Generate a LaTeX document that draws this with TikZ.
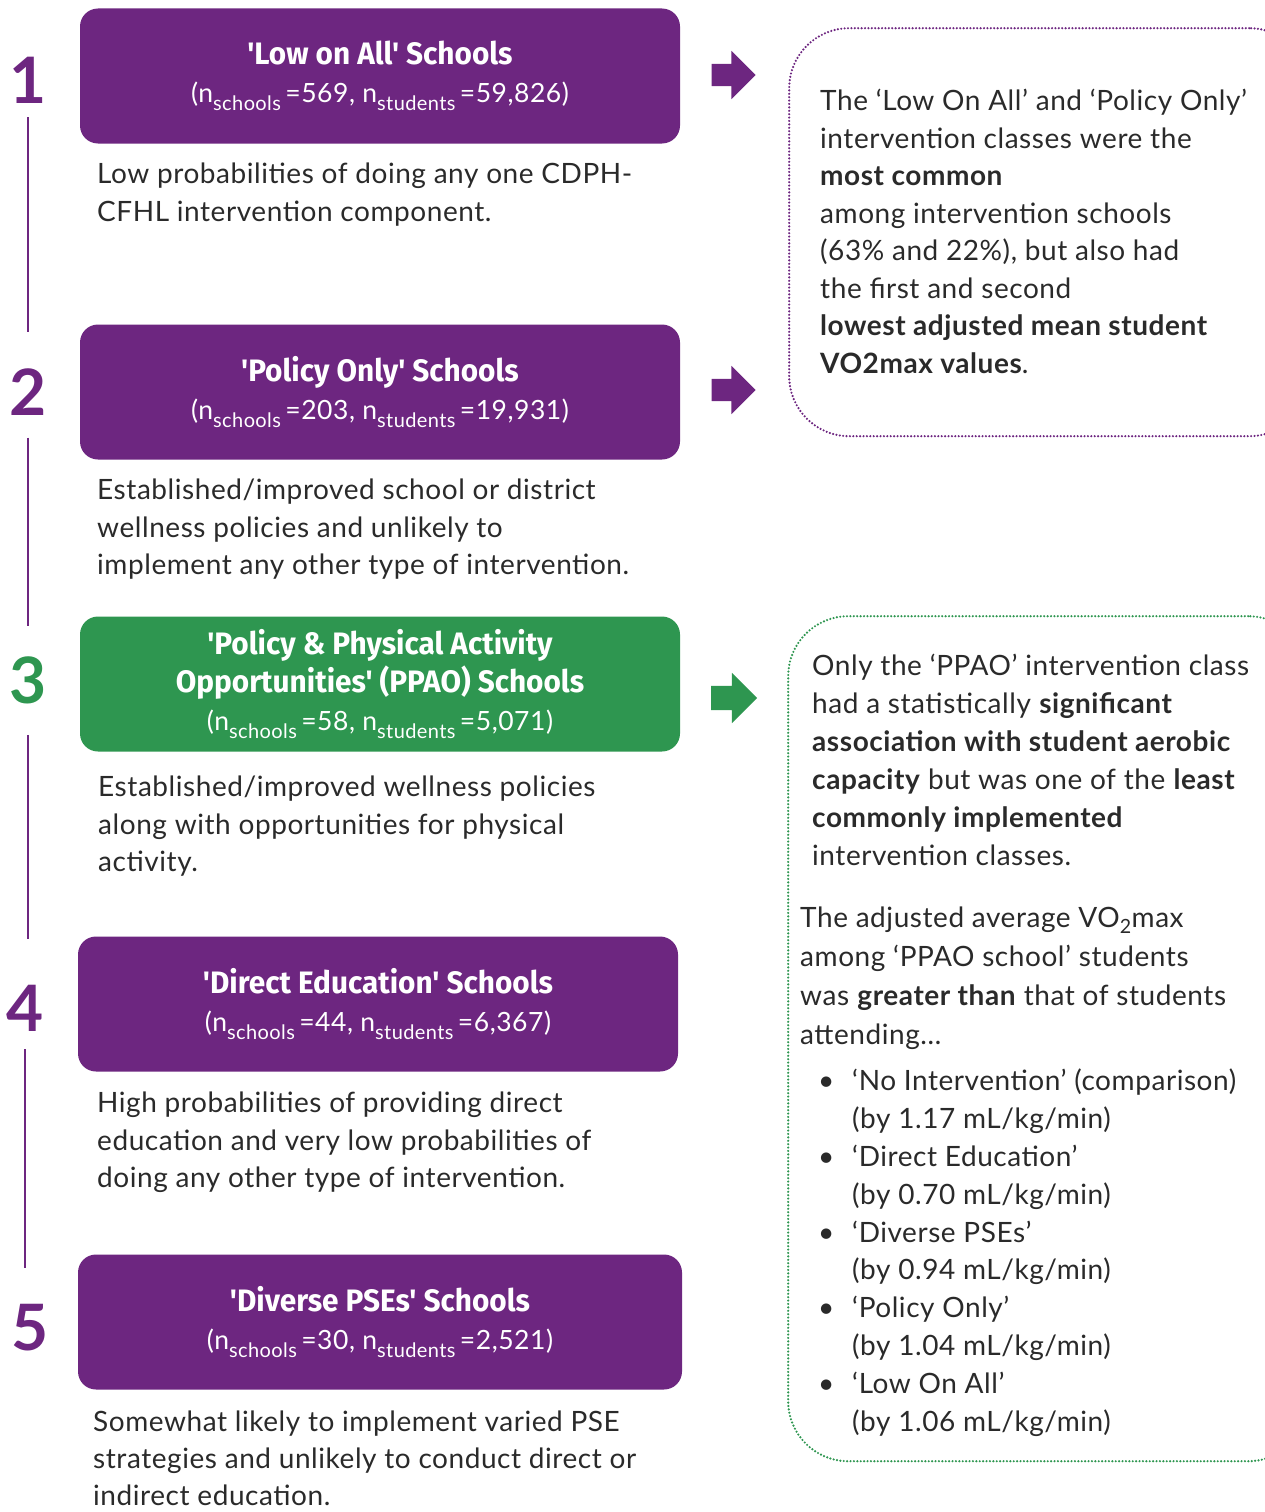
\documentclass[tikz,border=0pt]{standalone}
\usepackage{fontspec}
\setmainfont{Lato}[LetterSpace=2.0]
\newfontfamily\headfont{Fira Sans}[FakeStretch=0.96]
\usetikzlibrary{positioning,shapes.arrows}

\definecolor{classpurple}{HTML}{6D2680}
\definecolor{classgreen}{HTML}{2E9650}
\definecolor{bodytext}{HTML}{2A2A2A}

\newcommand{\lowidx}[1]{\raisebox{-0.32em}{\fontsize{20}{20}\selectfont #1}}
\newcommand{\counts}[2]{{\normalfont\fontsize{26.5}{38}\selectfont(n\lowidx{schools}\,=#1, n\lowidx{students}\,=#2)}}
\newcommand{\bul}{\makebox[34pt][l]{\textbullet}}
\newcommand{\ind}{\hspace*{34pt}}

\begin{document}
\begin{tikzpicture}[x=1pt,y=-1pt,
    classbox/.style={fill=classpurple,rounded corners=18pt,minimum width=600pt,minimum height=135pt,
      text=white,align=center,inner sep=0pt,font=\headfont\bfseries\fontsize{31}{38}\selectfont},
    desc/.style={anchor=north west,align=left,inner sep=0pt,text=bodytext,font=\fontsize{28}{37.5}\selectfont},
    num/.style={font=\bfseries\fontsize{64}{64}\selectfont,text=classpurple,inner sep=0pt},
    timeline/.style={classpurple,line width=1.5pt},
    pointer/.style={single arrow,fill=classpurple,minimum height=44pt,inner xsep=0pt,inner ysep=11pt,
      single arrow head extend=13pt},
    note/.style={anchor=north west,draw,line width=2.4pt,dash pattern=on 0pt off 3.4pt,line cap=round,
      rounded corners=60pt,inner sep=0pt}]
  \useasboundingbox (0,0) rectangle (1265,1512);

  % class boxes
  \node[classbox] (c1) at (380,76) {'Low on All' Schools\\\counts{569}{59,826}};
  \node[classbox] (c2) at (380,392) {'Policy Only' Schools\\\counts{203}{19,931}};
  \node[classbox,fill=classgreen] (c3) at (380,684)
    {'Policy \& Physical Activity\\Opportunities' (PPAO) Schools\\\counts{58}{5,071}};
  \node[classbox] (c4) at (378,1004) {'Direct Education' Schools\\\counts{44}{6,367}};
  \node[classbox,minimum width=604pt] (c5) at (380,1322) {'Diverse PSEs' Schools\\\counts{30}{2,521}};

  \node[desc] (d1) at (97,163) {Low probabilities of doing any one CDPH-\\CFHL intervention component.};
  \node[desc] (d2) at (97,479) {Established/improved school or district\\wellness policies and unlikely to\\implement any other type of intervention.};
  \node[desc] (d3) at (98,776) {Established/improved wellness policies\\along with opportunities for physical\\activity.};
  \node[desc] (d4) at (97,1092) {High probabilities of providing direct\\education and very low probabilities of\\doing any other type of intervention.};
  \node[desc,font=\fontsize{28}{37}\selectfont] (d5) at (93,1411) {Somewhat likely to implement varied PSE\\strategies and unlikely to conduct direct or\\indirect education.};

  % numbering down the left side
  \node[num] (n1) at (28,80) {1};
  \node[num] (n2) at (28,392) {2};
  \node[num,text=classgreen] (n3) at (28,680) {3};
  \node[num] (n4) at (25,1008) {4};
  \node[num] (n5) at (30,1328) {5};
  \draw[timeline,shorten <=14pt,shorten >=36pt] (n1.south) -- (n1.south |- n2.north);
  \draw[timeline,shorten <=22pt,shorten >=30pt] (n2.south) -- (n2.south |- n3.north);
  \draw[timeline,shorten <=31pt,shorten >=46pt] (n3.south) -- (n3.south |- n4.north);
  \draw[timeline,shorten <=18pt,shorten >=36pt] (n4.south) -- (n4.south |- n5.north);

  \node[pointer] (p1) at (728,75) {};
  \node[pointer] (p2) at (728,390) {};
  \node[pointer,fill=classgreen,minimum height=46pt,inner ysep=12pt] (p3) at (728,698) {};

  % findings
  \node[note,draw=classpurple,minimum width=520pt,minimum height=408pt] (f1) at (788,27) {};
  \node[desc] (t1) at (820,89) {The `Low On All' and `Policy Only'\\intervention classes were the\\
    \textbf{most common}\\among intervention schools\\(63\% and 22\%), but also had\\
    the first and second\\\textbf{lowest adjusted mean student}\\\textbf{VO2max values}.};

  \node[note,draw=classgreen,minimum width=520pt,minimum height=845pt] (f2) at (787,615) {};
  \node[desc,font=\fontsize{28}{38}\selectfont] (t2) at (812,654) {Only the `PPAO' intervention class\\
    had a statistically \textbf{significant}\\\textbf{association with student aerobic}\\
    \textbf{capacity} but was one of the \textbf{least}\\\textbf{commonly implemented}\\intervention classes.};
  \node[desc,font=\fontsize{28}{39}\selectfont] (t3) at (800,907) {The adjusted average VO\textsubscript{2}max\\
    among `PPAO school' students\\was \textbf{greater than} that of students\\attending\dots};
  \node[desc,font=\fontsize{28}{37.8}\selectfont] (t4) at (818,1069) {\bul`No Intervention' (comparison)\\
    \ind(by 1.17 mL/kg/min)\\\bul`Direct Education'\\\ind(by 0.70 mL/kg/min)\\
    \bul`Diverse PSEs'\\\ind(by 0.94 mL/kg/min)\\\bul`Policy Only'\\\ind(by 1.04 mL/kg/min)\\
    \bul`Low On All'\\\ind(by 1.06 mL/kg/min)};
\end{tikzpicture}
\end{document}
